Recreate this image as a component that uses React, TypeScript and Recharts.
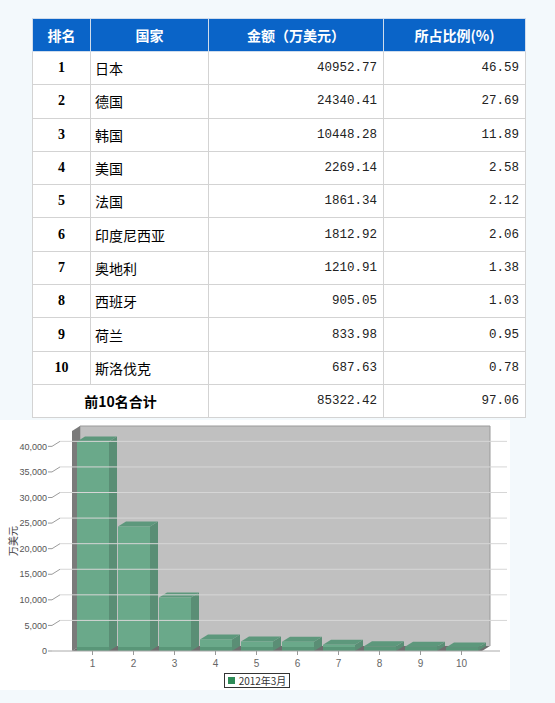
import React from "react"
import { Bar, BarChart, Legend, ReferenceArea, ReferenceLine, XAxis, YAxis } from "recharts"

const ranks = ["1", "2", "3", "4", "5", "6", "7", "8", "9", "10"]
const countries = ["日本", "德国", "韩国", "美国", "法国", "印度尼西亚", "奥地利", "西班牙", "荷兰", "斯洛伐克"]
const amounts = [40952.77, 24340.41, 10448.28, 2269.14, 1861.34, 1812.92, 1210.91, 905.05, 833.98, 687.63]
const shares = [46.59, 27.69, 11.89, 2.58, 2.12, 2.06, 1.38, 1.03, 0.95, 0.78]
const headers = ["排名", "国家", "金额（万美元）", "所占比例(%)"]
const totalLabel = "前10名合计"
const totalAmount = 85322.42
const totalShare = 97.06
const yTicks = [0, 5000, 10000, 15000, 20000, 25000, 30000, 35000, 40000]
const seriesName = "2012年3月"

const data = ranks.map((rank, i) => ({ rank, amount: amounts[i] }))

const DX = 8
const DY = 5

const colWidths = [58, 118, 175, 142]
const border = "1px solid #d3d3d3"
const cjk = '"Noto Sans CJK SC", sans-serif'
const mono = '"Liberation Mono", monospace'
const sans = '"Liberation Sans", sans-serif'

function Walls(props: any) {
  const { x, y, width, height } = props
  const b = y + height
  return (
    <g>
      <rect x={x + DX} y={y - DY} width={width} height={height} fill="#c0c0c0" />
      <path d={`M${x + DX},${b - DY}V${y - DY}H${x + width + DX}V${b - DY}`} fill="none" stroke="#9a9a9a" />
      <polygon points={`${x},${y} ${x + DX},${y - DY} ${x + DX},${b - DY} ${x},${b}`} fill="#7a7a7a" />
      <polygon
        points={`${x},${b} ${x + DX},${b - DY} ${x + width + DX},${b - DY} ${x + width},${b}`}
        fill="#6e6e6e"
      />
    </g>
  )
}

function GridLine(props: any) {
  const { x1, x2, y1 } = props
  if (x1 == null || y1 == null) return null
  return (
    <g>
      <path d={`M${x1},${y1}L${x1 + DX},${y1 - DY}`} fill="none" stroke="#9c9c9c" strokeWidth={1} />
      <path d={`M${x1 + DX},${y1 - DY}H${x2 + DX - 1}`} fill="none" stroke="#d6d6d6" strokeWidth={1} />
    </g>
  )
}

function Box(props: any) {
  const { x, y, width, height } = props
  if (!height || height <= 0) return null
  const r = x + width
  const b = y + height
  return (
    <g>
      <polygon points={`${r},${y} ${r + DX},${y - DY} ${r + DX},${b - DY} ${r},${b}`} fill="#5a8e75" />
      <polygon points={`${x},${y} ${x + DX},${y - DY} ${r + DX},${y - DY} ${r},${y}`} fill="#5d987c" />
      <rect x={x} y={y} width={width} height={height} fill="#6aa98a" />
      <rect x={x} y={b - Math.min(4, height)} width={width} height={Math.min(4, height)} fill="#4f8a6c" opacity={0.6} />
    </g>
  )
}

function LegendBox() {
  return (
    <div style={{ display: "flex", justifyContent: "center" }}>
      <div
        style={{
          border: "1px solid #333",
          padding: "0 3px",
          height: 13,
          display: "flex",
          alignItems: "center",
          fontFamily: cjk,
          fontSize: 10,
          color: "#333",
          background: "#fff",
          marginLeft: 14,
        }}
      >
        <span style={{ width: 7, height: 7, background: "#2e8b57", marginRight: 4, display: "inline-block" }} />
        {seriesName}
      </div>
    </div>
  )
}

function cellStyle(align: "left" | "right" | "center", extra: React.CSSProperties = {}): React.CSSProperties {
  return {
    border,
    textAlign: align,
    padding: "0 6px",
    verticalAlign: "middle",
    background: "#fff",
    ...extra,
  }
}

export default function App() {
  return (
    <div style={{ position: "absolute", left: 0, top: 0, width: 555, height: 703, background: "#f3f9fc", overflow: "hidden" }}>
      <table
        style={{
          position: "absolute",
          left: 32,
          top: 18,
          width: 493,
          borderCollapse: "collapse",
          tableLayout: "fixed",
        }}
      >
        <colgroup>
          {colWidths.map((w, i) => (
            <col key={i} style={{ width: w }} />
          ))}
        </colgroup>
        <thead>
          <tr style={{ height: 33 }}>
            {headers.map((h) => (
              <th
                key={h}
                style={{
                  background: "#0a64c8",
                  color: "#fff",
                  fontFamily: cjk,
                  fontWeight: 700,
                  fontSize: 14,
                  border: "1px solid #cfdcec",
                  padding: 0,
                }}
              >
                {h}
              </th>
            ))}
          </tr>
        </thead>
        <tbody>
          {ranks.map((r, i) => (
            <tr key={r} style={{ height: 33.3 }}>
              <td style={cellStyle("center", { fontFamily: '"Liberation Serif", serif', fontWeight: 700, fontSize: 14 })}>{r}</td>
              <td style={cellStyle("left", { fontFamily: cjk, fontSize: 14, paddingLeft: 4 })}>{countries[i]}</td>
              <td style={cellStyle("right", { fontFamily: mono, fontSize: 12.5, color: "#222" })}>{amounts[i].toFixed(2)}</td>
              <td style={cellStyle("right", { fontFamily: mono, fontSize: 12.5, color: "#222" })}>{shares[i].toFixed(2)}</td>
            </tr>
          ))}
          <tr style={{ height: 33.3 }}>
            <td colSpan={2} style={cellStyle("center", { fontFamily: cjk, fontWeight: 700, fontSize: 14 })}>
              {totalLabel}
            </td>
            <td style={cellStyle("right", { fontFamily: mono, fontSize: 12.5, color: "#222" })}>{totalAmount.toFixed(2)}</td>
            <td style={cellStyle("right", { fontFamily: mono, fontSize: 12.5, color: "#222" })}>{totalShare.toFixed(2)}</td>
          </tr>
        </tbody>
      </table>

      <div style={{ position: "absolute", left: 0, top: 420, width: 510, height: 270, background: "#fff" }}>
        <BarChart width={510} height={270} data={data} margin={{ top: 11, right: 10, left: 0, bottom: 2 }}>
          <ReferenceArea y1={0} y2={43000} shape={Walls} ifOverflow="visible" />
          {yTicks.slice(1).map((t) => (
            <ReferenceLine key={t} y={t} shape={GridLine} ifOverflow="visible" />
          ))}
          <XAxis
            dataKey="rank"
            height={22}
            padding={{ left: 20, right: 18 }}
            tick={{ fontSize: 10, fill: "#666", fontFamily: sans }}
            tickLine={{ stroke: "#999" }}
            tickSize={4}
            tickMargin={5}
            axisLine={{ stroke: "#aaa" }}
          />
          <YAxis
            width={52}
            domain={[0, 43000]}
            ticks={yTicks}
            interval={0}
            tickFormatter={(v) => v.toLocaleString("en-US")}
            tick={{ fontSize: 9, fill: "#555", fontFamily: sans }}
            tickLine={{ stroke: "#999" }}
            tickSize={4}
            tickMargin={1}
            axisLine={false}
            label={{ value: "万美元", angle: -90, position: "center", dx: -13, fontSize: 10, fill: "#444", fontFamily: cjk }}
          />
          <Bar dataKey="amount" name={seriesName} barSize={32} shape={Box} isAnimationActive={false} />
          <Legend verticalAlign="bottom" height={15} content={LegendBox} />
        </BarChart>
      </div>
    </div>
  )
}
